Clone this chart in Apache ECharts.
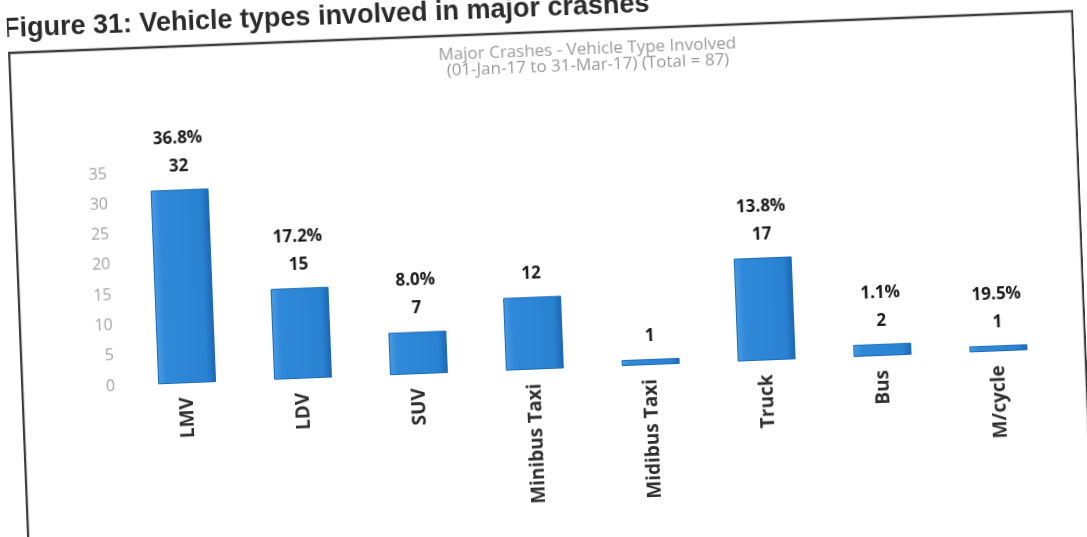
<!DOCTYPE html>
<html>
<head>
<meta charset="utf-8">
<script src="https://cdn.jsdelivr.net/npm/echarts@6/dist/echarts.min.js"></script>
<style>
  html, body { margin: 0; padding: 0; background: #ffffff; width: 1087px; height: 537px; overflow: hidden; }
  #wrap { position: absolute; left: 8px; top: 2px; width: 1066px; height: 537px;
          transform-origin: 0px 50px; transform: rotate(-2.25deg); }
  #chart { width: 1066px; height: 537px; }
</style>
</head>
<body>
<div id="wrap"><div id="chart"></div></div>
<script>
const figureTitle = 'Figure 31: Vehicle types involved in major crashes';
const chartTitle = 'Major Crashes - Vehicle Type Involved\n(01-Jan-17 to 31-Mar-17) (Total = 87)';
const categories = ['LMV', 'LDV', 'SUV', 'Minibus Taxi', 'Midibus Taxi', 'Truck', 'Bus', 'M/cycle'];
const counts = [32, 15, 7, 12, 1, 17, 2, 1];
const percentLabels = ['36.8%', '17.2%', '8.0%', '', '', '13.8%', '1.1%', '19.5%'];
const yMin = 0, yMax = 35, yStep = 5;

const chart = echarts.init(document.getElementById('chart'), null, { renderer: 'canvas' });
const option = {
  backgroundColor: 'transparent',
  animation: false,
  title: [
    { text: figureTitle, left: -4, top: 14, padding: 0,
      textStyle: { fontFamily: 'Liberation Sans', fontWeight: 'bold', fontSize: 27, color: '#2b2b2b' } },
    { text: chartTitle, left: 574, top: 57, textAlign: 'center',
      textStyle: { fontFamily: 'Open Sans', fontWeight: 'normal', fontSize: 17, lineHeight: 16, color: '#9a9a9a' } }
  ],
  graphic: [
    { type: 'rect', shape: { x: 1, y: 51, width: 1064, height: 500 },
      style: { fill: 'none', stroke: '#3c3c3c', lineWidth: 2.5 }, silent: true }
  ],
  grid: { left: 108, right: 30, top: 176, bottom: 149 },
  xAxis: {
    type: 'category', data: categories,
    axisLine: { show: false }, axisTick: { show: false },
    axisLabel: { rotate: 90, margin: 14, interval: 0,
      fontFamily: 'Open Sans', fontWeight: 'bold', fontSize: 19, color: '#2e2e2e' }
  },
  yAxis: {
    type: 'value', min: yMin, max: yMax, interval: yStep,
    axisLine: { show: false }, axisTick: { show: false }, splitLine: { show: false },
    axisLabel: { margin: 14, fontFamily: 'Open Sans', fontSize: 16, color: '#a3a3a3' }
  },
  series: [{
    type: 'bar', data: counts, barWidth: '50%',
    itemStyle: {
      color: { type: 'linear', x: 0, y: 0, x2: 1, y2: 0, colorStops: [
        { offset: 0, color: '#4b9ce2' }, { offset: 0.15, color: '#2f88d8' },
        { offset: 0.85, color: '#2a82d2' }, { offset: 1, color: '#1b66b3' }] },
      borderColor: '#1e6cb6', borderWidth: 1
    },
    label: {
      show: true, position: 'top', distance: 9,
      formatter: p => percentLabels[p.dataIndex]
        ? '{p|' + percentLabels[p.dataIndex] + '}\n{v|' + p.value + '}'
        : '{v|' + p.value + '}',
      rich: {
        p: { fontFamily: 'Open Sans', fontWeight: 'bold', fontSize: 17, lineHeight: 28, color: '#1a1a1a' },
        v: { fontFamily: 'Open Sans', fontWeight: 'bold', fontSize: 17, lineHeight: 28, color: '#1a1a1a' }
      }
    }
  }]
};
chart.setOption(option);
</script>
</body>
</html>
